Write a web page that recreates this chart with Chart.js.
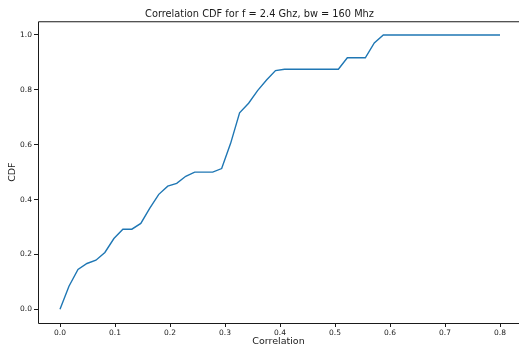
<!DOCTYPE html>
<html>
<head>
<meta charset="utf-8">
<script src="https://cdn.jsdelivr.net/npm/chart.js@4"></script>
<style>
  html, body { margin: 0; padding: 0; background: #fff; overflow: hidden; }
  #wrap { width: 519px; height: 349px; }
</style>
</head>
<body>
<div id="wrap"><canvas id="cdf" width="519" height="349"></canvas></div>
<script>
// Correlation values at which the CDF is evaluated (50 evenly spaced samples)
const correlation = [
  0.0000, 0.0163, 0.0327, 0.0490, 0.0653, 0.0816, 0.0980, 0.1143, 0.1306, 0.1469,
  0.1633, 0.1796, 0.1959, 0.2122, 0.2286, 0.2449, 0.2612, 0.2776, 0.2939, 0.3102,
  0.3265, 0.3429, 0.3592, 0.3755, 0.3918, 0.4082, 0.4245, 0.4408, 0.4571, 0.4735,
  0.4898, 0.5061, 0.5224, 0.5388, 0.5551, 0.5714, 0.5878, 0.6041, 0.6204, 0.6367,
  0.6531, 0.6694, 0.6857, 0.7020, 0.7184, 0.7347, 0.7510, 0.7673, 0.7837, 0.8000
];
// Cumulative distribution value at each correlation sample
const cdf = [
  0.000, 0.084, 0.145, 0.167, 0.179, 0.207, 0.258, 0.292, 0.292, 0.313,
  0.369, 0.419, 0.449, 0.459, 0.485, 0.500, 0.500, 0.500, 0.513, 0.605,
  0.716, 0.751, 0.797, 0.836, 0.870, 0.875, 0.875, 0.875, 0.875, 0.875,
  0.875, 0.875, 0.917, 0.917, 0.917, 0.971, 1.000, 1.000, 1.000, 1.000,
  1.000, 1.000, 1.000, 1.000, 1.000, 1.000, 1.000, 1.000, 1.000, 1.000
];
const xTicks = [0.0, 0.1, 0.2, 0.3, 0.4, 0.5, 0.6, 0.7, 0.8];
const yTicks = [0.0, 0.2, 0.4, 0.6, 0.8, 1.0];

const FONT = 'DejaVu Sans';
const INK = '#1a1a1a';

// Axes frame: left, top and bottom spines
const frame = {
  id: 'frame',
  afterDraw(chart) {
    const { ctx, chartArea: a } = chart;
    ctx.save();
    ctx.strokeStyle = INK;
    ctx.lineWidth = 1;
    ctx.beginPath();
    ctx.moveTo(a.left + 0.5, a.bottom + 0.5);
    ctx.lineTo(a.left + 0.5, a.top + 0.5);
    ctx.lineTo(a.right + 2, a.top + 0.5);
    ctx.moveTo(a.left + 0.5, a.bottom + 0.5);
    ctx.lineTo(a.right + 2, a.bottom + 0.5);
    ctx.stroke();
    ctx.restore();
  }
};

new Chart(document.getElementById('cdf'), {
  type: 'line',
  data: {
    datasets: [{
      data: correlation.map((x, i) => ({ x, y: cdf[i] })),
      borderColor: '#1f77b4',
      borderWidth: 1.4,
      pointRadius: 0,
      tension: 0,
      fill: false
    }]
  },
  options: {
    responsive: false,
    animation: false,
    events: [],
    layout: { padding: { left: 0, right: 0, top: 0, bottom: 0 } },
    plugins: {
      legend: { display: false },
      tooltip: { enabled: false },
      title: {
        display: true,
        text: 'Correlation CDF for f = 2.4 Ghz, bw = 160 Mhz',
        color: INK,
        font: { family: FONT, size: 9.8, weight: 'normal' },
        padding: { top: 8.5, bottom: 1 }
      }
    },
    scales: {
      x: {
        type: 'linear',
        min: -0.04,
        max: 0.8345,
        afterBuildTicks(s) { s.ticks = xTicks.map(v => ({ value: v })); },
        afterFit(s) { s.height = 26; },
        border: { display: false },
        grid: { drawOnChartArea: false, drawTicks: true, tickLength: 4, color: INK, tickWidth: 1 },
        ticks: {
          color: INK,
          padding: 2,
          maxRotation: 0,
          font: { family: FONT, size: 7.5 },
          callback: v => v.toFixed(1)
        },
        title: {
          display: true,
          text: 'Correlation',
          color: INK,
          font: { family: FONT, size: 9.5 },
          padding: { top: 0, bottom: 1.8 }
        }
      },
      y: {
        type: 'linear',
        min: -0.05,
        max: 1.05,
        afterBuildTicks(s) { s.ticks = yTicks.map(v => ({ value: v })); },
        afterFit(s) { s.width = 38; },
        border: { display: false },
        grid: { drawOnChartArea: false, drawTicks: true, tickLength: 4, color: INK, tickWidth: 1 },
        ticks: {
          color: INK,
          padding: 2,
          font: { family: FONT, size: 7.5 },
          callback: v => v.toFixed(1)
        },
        title: {
          display: true,
          text: 'CDF',
          color: INK,
          font: { family: FONT, size: 9.5 },
          padding: { top: 6.5, bottom: 0 }
        }
      }
    }
  },
  plugins: [frame]
});
</script>
</body>
</html>
